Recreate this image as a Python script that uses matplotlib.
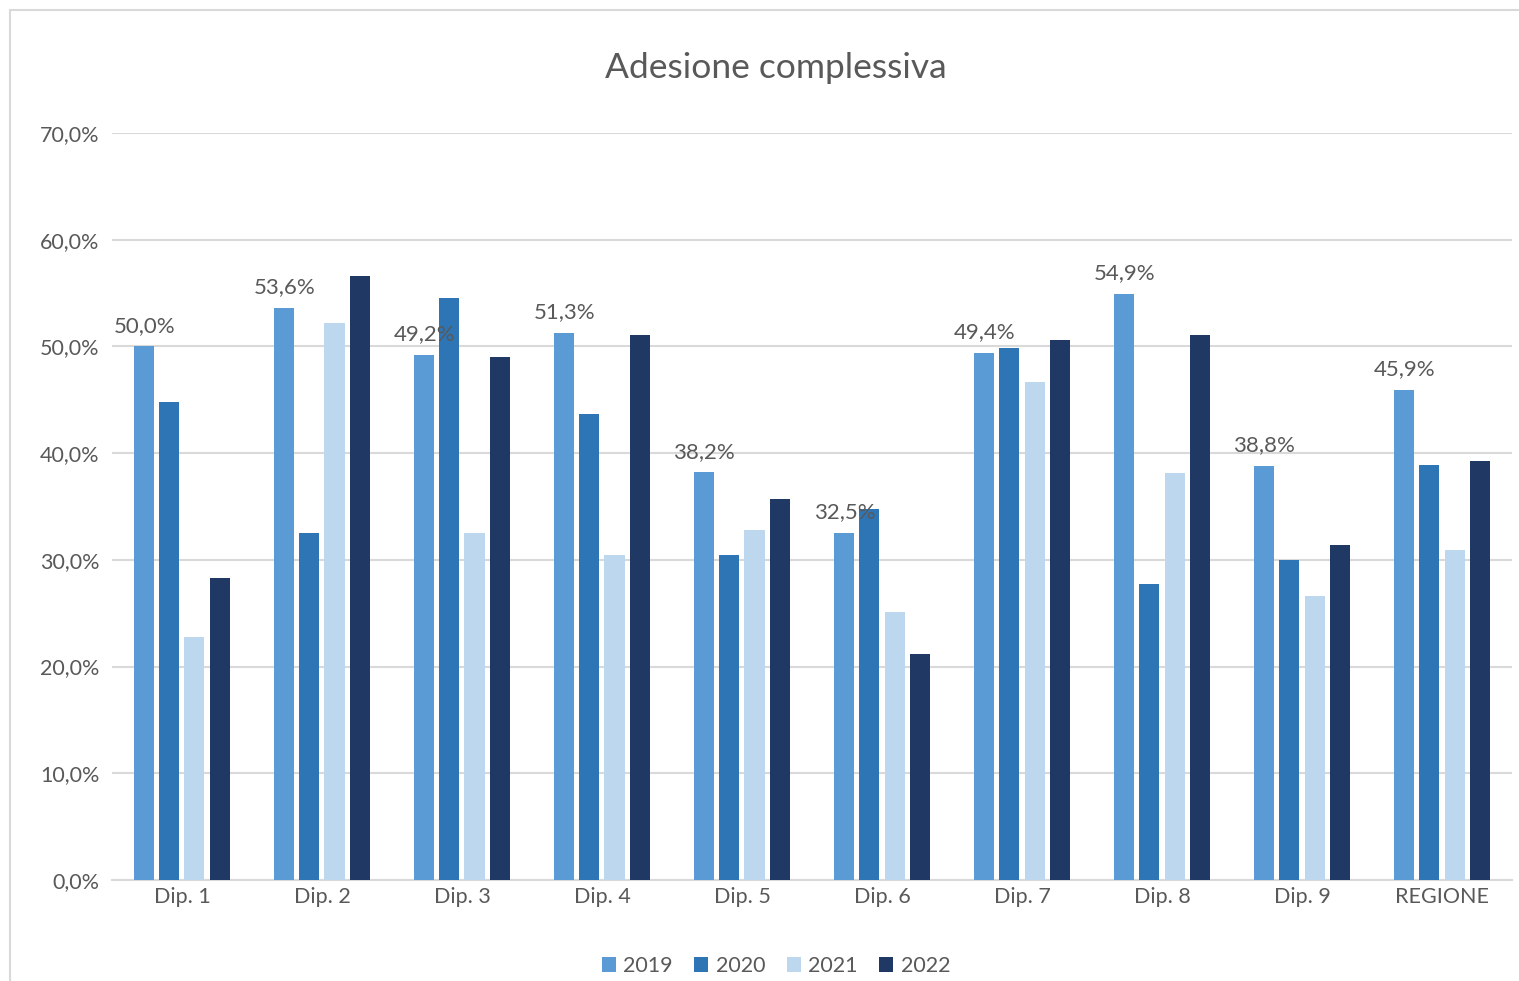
import matplotlib
matplotlib.use("Agg")
import matplotlib.pyplot as plt
import numpy as np
from matplotlib.patches import Rectangle

categories = ["Dip. 1", "Dip. 2", "Dip. 3", "Dip. 4", "Dip. 5",
              "Dip. 6", "Dip. 7", "Dip. 8", "Dip. 9", "REGIONE"]
years = ["2019", "2020", "2021", "2022"]
v2019 = [50.0, 53.6, 49.2, 51.3, 38.2, 32.5, 49.4, 54.9, 38.8, 45.9]
v2020 = [44.8, 32.5, 54.5, 43.7, 30.5, 34.8, 49.9, 27.7, 30.0, 38.9]
v2021 = [22.8, 52.2, 32.5, 30.5, 32.8, 25.1, 46.7, 38.1, 26.6, 30.9]
v2022 = [28.3, 56.6, 49.0, 51.1, 35.7, 21.2, 50.6, 51.1, 31.4, 39.3]
series = [v2019, v2020, v2021, v2022]
colors = ["#5B9BD5", "#2E75B6", "#BDD7EE", "#1F3864"]

plt.rcParams["font.family"] = ["Lato", "DejaVu Sans"]
txt = "#595959"

fig = plt.figure(figsize=(15.19, 9.81), dpi=100)
ax = fig.add_axes([0.0737, 0.1030, 0.9217, 0.7614])

x = np.arange(len(categories))
w = 0.143
step = 0.179
for i, (vals, c, yr) in enumerate(zip(series, colors, years)):
    pos = x + (i - 1.5) * step
    bars = ax.bar(pos, vals, w, color=c, label=yr, zorder=3)
    if i == 0:
        for b, v in zip(bars, vals):
            ax.text(b.get_x() + b.get_width() / 2, v + 1.0,
                    f"{v:.1f}%".replace(".", ","),
                    ha="center", va="bottom", fontsize=16, color=txt, zorder=4)

ax.set_xlim(-0.5, len(categories) - 0.5)
ax.set_ylim(0, 70)
ax.set_yticks(np.arange(0, 71, 10))
ax.set_yticklabels([f"{t:.1f}%".replace(".", ",") for t in np.arange(0, 71, 10)])
ax.set_xticks(x)
ax.set_xticklabels(categories)
ax.tick_params(axis="both", length=0, labelsize=15.5, colors=txt)
ax.tick_params(axis="y", pad=9)
ax.tick_params(axis="x", pad=5)
ax.grid(True, axis="y", color="#D9D9D9", linewidth=1.5, zorder=0)
for s in ["top", "right", "left"]:
    ax.spines[s].set_visible(False)
ax.spines["bottom"].set_color("#D9D9D9")
ax.spines["bottom"].set_linewidth(1.5)

fig.text(776 / 1519, 1 - 68 / 981, "Adesione complessiva", ha="center", va="center",
         fontsize=25.5, color=txt)

fig.legend(loc="center", bbox_to_anchor=(776 / 1519, 1 - 966 / 981), ncol=4,
           frameon=False, fontsize=15.5, labelcolor=txt, handlelength=0.65,
           handleheight=0.65, handletextpad=0.35, columnspacing=1.0)

fig.patches.append(Rectangle((10 / 1519, -0.01), 1.1, 1 - 10 / 981 + 0.01,
                             transform=fig.transFigure, fill=False,
                             edgecolor="#D9D9D9", linewidth=1.5))

fig.savefig("out.png", dpi=100)
